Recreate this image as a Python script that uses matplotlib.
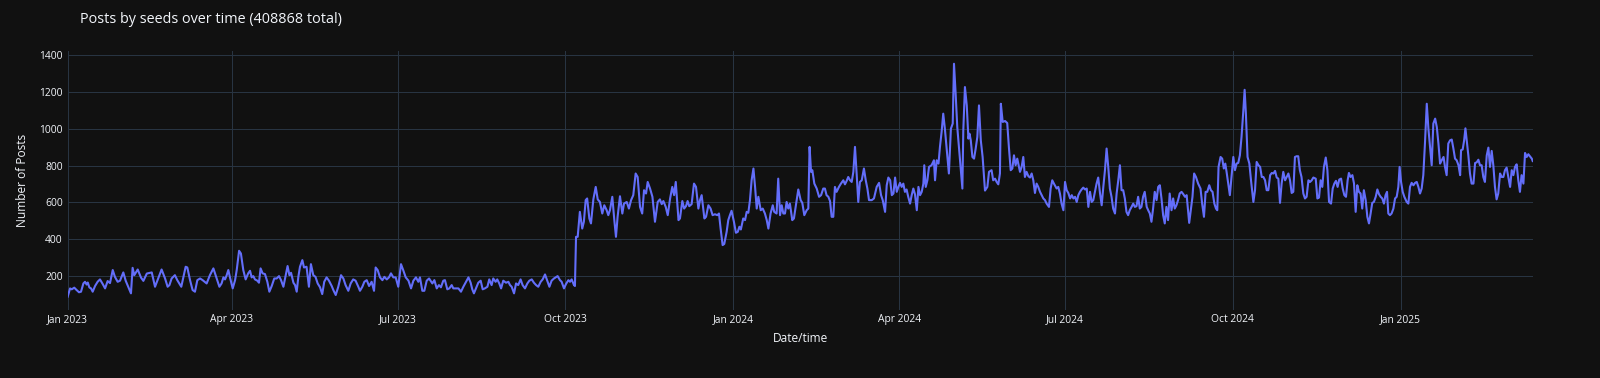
import matplotlib
matplotlib.use("Agg")
import matplotlib.pyplot as plt
import pandas as pd

# ---------------- data ----------------
start_date = "2023-01-01"

day_offset = [
    0, 1.3, 2.2, 3.6, 4.9, 6.2, 7.3, 8.6, 9.5, 10.4, 11, 11.9, 12.8, 13.7, 15, 16.4, 17.7, 19.2, 20.5, 21.9,
    23.2, 24.7, 25.9, 27.4, 28.7, 30.5, 31.8, 33.6, 34.7, 35.6, 36.5, 38.4, 40.2, 41.5, 43.4, 46.1, 47.9, 51.5,
    53.4, 54.8, 55.8, 57, 58.8, 60.1,
    62.3, 64.7, 65.6, 67.1, 68.5, 69.8, 71.1, 72.6, 74, 76.2, 78, 79.9, 81.7, 83.2, 84.4, 85.4, 86.3, 87.2, 88.1,
    89, 90.5, 91.8, 92.7, 94, 95, 96.3, 97.6, 99, 100, 100.9, 101.8, 102.7, 104, 104.9, 105.8, 106.9, 108.2,
    109.5, 110.6, 111.9, 113.3, 114.6, 115.9, 117, 118.3, 119.6, 120.6, 121.6, 122.5, 123.8, 124.7, 125.6,
    126.5, 127.4, 128.7, 129.6,
    131, 132.3, 133.4, 134.7, 135.9, 137.1, 138.4, 139.6, 140.7, 142, 143.3, 144.8, 145.7, 147, 148.4, 149.9,
    151.2, 152.4, 153.9, 155.2, 156.6, 157.9, 159.4, 160.3, 161.6, 162.7, 164, 165.3, 166.7, 168, 168.9, 170,
    171.3, 172.6, 173.7, 175, 176.2, 177.3, 178.6, 179.9, 181.3, 182.8, 184, 185.4, 186.9, 188.3, 189.6, 191,
    192.3, 193.2, 194.5, 195.6, 196.9, 198.2,
    200, 201.1, 202.4, 203.6, 204.7, 206, 206.9, 208.2, 209.3, 210.6, 211.5, 212.9, 214.3, 215.7, 217, 218.5,
    219.8, 221, 221.9, 222.8, 223.9, 225.2, 226.5, 227.6, 228.8, 230.2, 231.2, 232.5, 233.4, 234.7, 235.6,
    236.7, 237.7, 238.9, 240.4, 241.7, 242.6, 243.5, 244.8, 245.9, 247.1, 248.4, 249.5, 250.8, 252.1, 253.2,
    254.5, 255.7, 256.9, 258.1, 259.4, 260.5, 261.8, 263, 264.2, 265.4, 266.7,
    268.7, 270, 270.9, 272.2, 273.3, 274.6, 275.5, 276.4, 277.7, 278.2, 278.8, 279.7, 280.9, 282.2, 283.1,
    284.1, 284.9, 286.1, 287, 288.3, 289.6, 290.7, 291.9, 293.2, 294.3, 295.6, 296.5, 297.4, 298.7, 299.8,
    300.7, 301.6, 302.9, 304.2, 305.1, 306.6, 307.8, 309, 310.2, 311.5, 312.6, 313.9, 315.1, 316.1, 317.2,
    318.1, 319.4, 320.7, 322.1, 323.6, 324.8, 325.8, 326.7, 328, 329.1, 330.4, 331.6, 332.6, 333.5, 335,
    335.8, 337.1, 338.1, 339.1, 340, 340.9, 342.2, 343.5, 344.6, 345.9, 346.8, 347.7, 349.2, 350.1, 351.4,
    352.6, 353.7, 355, 356.3, 357.2, 358.1, 359.2, 360.1, 361.4, 362.3, 363.2, 364.1, 365.4, 366.5, 367.5,
    368.4, 369.2, 370.5, 371.5, 372.4, 373.3, 374.2, 375.1, 376.1, 377, 377.9, 378.8, 380.1, 381.2, 382.4,
    383.4, 384.3, 385.5, 386.7, 387.5, 388.8, 389.7, 390.7, 391.6, 392.5, 393.4, 394.3, 395.2, 396.1, 397.4,
    398.3, 399.8, 400.7, 402, 402.9, 404, 405.3, 406.2,
    406.9, 407.7, 408.4, 409.5, 410.8, 412.1, 413.2, 414.4, 415.3, 416.2, 417.2, 418.1, 419, 419.9, 420.8,
    421.7, 423, 424.1, 425.4, 426.3, 427.2, 428.1, 429.1, 430, 430.9, 431.8, 432.7, 433.6, 434.5, 435.5,
    436.7, 437.7, 438.6, 439.5, 441, 442.2, 443.7, 445, 446.1, 447, 448.3, 449.2, 450.1, 451.1, 452, 452.9,
    453.8, 454.7, 455.6, 456.5, 457.4, 458.3, 459.2, 460.1, 461, 462, 462.9, 463.8, 464.7, 465.7, 466.6,
    467.5, 468.4, 469.3, 469.8, 470.6, 471.5, 472.4,
    473.8, 475.1, 475.7, 476.6, 477.6, 478.4, 479.3, 480.2, 481.1, 482.1, 483.3, 484.4, 485.4, 486.1, 487,
    487.9, 488.8, 489.8, 490.7, 491.2, 492.1, 493.1, 494, 494.6, 495.3, 496.2, 497.1, 498, 498.9, 499.8,
    500.8, 501.8, 503.1, 504.4, 505.3, 506.7, 507.6, 508.6, 509.5, 510.4, 511.3, 511.8, 512.8, 514.1, 515.3,
    516.2, 517.2, 518.1, 519, 519.9, 520.8, 521.7, 522.3, 523.2, 524.1, 525, 525.9, 526.9, 527.8, 528.7,
    529.6, 530.5, 531.4, 532.3, 533.3, 534.2, 535.1, 536, 536.9, 538.2, 539.1, 540, 540.9,
    542.4, 543.3, 544.2, 545.1, 546.1, 547, 547.9, 548.8, 549.8, 550.7, 551.6, 552.5, 553.4, 554.3, 555.2,
    556.1, 557, 558, 558.9, 559.8, 560.7, 561.6, 562.5, 563.4, 564.3, 565.2, 566.2, 567.1, 568, 568.9, 569.8,
    570.7, 571.6, 572.5, 573.4, 574.4, 575.3, 576.2, 577.1, 578, 578.9, 579.8, 580.7, 581.6, 582.5, 583.5,
    584.4, 585.3, 586.2, 587.1, 588, 588.9, 589.8, 590.7, 591.8, 592.6, 593.5, 594.4, 595.3, 596.2, 597.2,
    598.1, 599, 599.9, 600.8, 601.7, 602.6, 603.5, 604.4, 605.4, 606.3, 607.2, 608.1, 609, 609.9,
    610.9, 611.9, 612.8, 613.7, 614.6, 615.1, 616, 616.9, 617.8, 618.8, 620, 621.3, 622.2, 623.2, 624.1, 625,
    626.1, 627, 627.9, 628.9, 629.8, 630.5, 631.2, 632.3, 633.2, 634.1, 634.9, 635.6, 636.5, 637.4, 638.3,
    639.3, 640.2, 641.1, 642, 642.9, 643.8, 644.8, 645.5, 646.2, 647.1, 648.1, 649, 650.3, 651.2, 652.1,
    653.1, 654, 654.9, 655.8, 656.7, 657.6, 658.5, 659.5, 660.4, 661.3, 662.2, 663.1, 664, 664.9, 665.8,
    666.7, 667.7, 668.6, 669.5, 670.4, 671.3, 672.2, 673.1, 674, 674.9, 675.8, 676.7, 677.7,
    678.6, 679.5, 680.5, 681.4, 682.3, 683.2, 684.5, 685.4, 686.3, 687.2, 688.1, 689, 690, 690.9, 691.8,
    692.9, 693.8, 694.7, 695.6, 696.5, 697.4, 698.4, 699.3, 700.2, 701.1, 702, 702.7, 703.6, 704.6, 705.5,
    706.4, 707.3, 708.2, 709.1, 710, 710.9, 711.9, 712.8, 713.7, 714.6, 715.5, 716.4, 717.4, 718.3, 719.2,
    720.1, 721, 721.9, 722.8, 723.6, 724.3, 725.2, 726.1, 727.1, 728, 728.9, 729.8, 730.5, 731.3, 732.2,
    733.1, 734.4, 735.3, 736.2, 737.1, 738.1, 739, 739.9, 740.8,
    741.7, 742.6, 743.5, 744.4, 745.4, 746.3, 747.2, 748.1, 749, 750, 750.9, 751.8, 752.7, 753.6, 754.6,
    755.4, 756.3, 757.2, 758.2, 759.1, 760, 760.9, 761.8, 762.8, 763.7, 764.2, 765.1, 765.9, 766.6, 767.3,
    768.2, 769.1, 770, 771, 771.9, 772.8, 773.7, 774.6, 775.5, 776.4, 777.3, 778.3, 779.2, 780.1, 781,
    781.9, 782.8, 783.7, 784.6, 785.6, 786.5, 787.4, 788.3, 789.2, 790.1, 791.1, 792, 792.9, 793.8, 794.7,
    795.6, 796.5, 797.4, 798.4, 799.3, 800.2, 801.1, 802, 803, 803.5,
]

posts = [
    86, 131, 126, 135, 122, 110, 113, 158, 167, 152, 163, 136, 131, 113, 144, 167, 180, 155, 131, 171,
    160, 231, 194, 167, 173, 218, 173, 131, 104, 243, 203, 234, 190, 172, 212, 218, 140, 234,
    185, 140, 149, 185, 203, 176,
    140, 249, 245, 176, 122, 113, 176, 185, 176, 158, 203, 240, 185, 140, 158, 191, 180, 203, 231,
    191, 131, 176, 231, 336, 321, 231, 180, 213, 227, 191, 198, 180, 173, 162, 240, 213, 209,
    167, 113, 144, 185, 185, 198, 176, 140, 203, 253, 203, 216, 162, 149, 113,
    194, 249, 285, 245,
    249, 140, 263, 203, 194, 158, 137, 100, 167, 191, 173, 144, 122, 95, 140, 203,
    185, 149, 118, 158, 180, 173, 140, 118, 140, 167, 176, 144, 167, 118, 245, 231,
    191, 176, 194, 180, 191, 213, 191, 191, 140, 263, 231, 191, 173, 131, 173, 191,
    167, 191, 118, 118, 173, 185,
    158, 176, 131, 149, 137, 173, 176, 126, 131, 149, 131, 131, 131, 113, 140, 167,
    191, 162, 126, 104, 131, 162, 173, 126, 131, 140, 180, 149, 185, 167, 180,
    158, 131, 173, 162, 167, 149, 140, 104, 158, 149, 180, 149, 131, 158, 173,
    180, 162, 149, 140, 167, 180, 207, 173, 140, 173, 185,
    198, 176, 167, 131, 155, 176, 167, 180, 149, 144, 412, 412, 548, 457, 494,
    612, 621, 512, 485, 616, 684, 616, 602, 539, 584, 557, 530, 557, 630, 503,
    412, 521, 633, 539, 593, 602, 566, 612, 639, 757, 738, 575, 539, 666, 648,
    711, 675, 630, 494, 602, 616, 590, 607, 575, 530, 621, 684, 639, 711, 503,
    512, 607, 566, 579, 607, 579, 590, 702, 684, 566, 612, 639, 512, 521, 584,
    566, 530, 535, 530, 539, 457, 367, 373, 439, 503, 530, 554, 494, 434, 439,
    467, 452, 512, 503, 548, 543, 612, 720, 784, 684, 566, 630, 557, 566, 539,
    503, 457, 539, 584, 548, 539, 729, 530, 584, 539, 539, 602, 566, 593, 503,
    512, 612, 670, 612, 597, 530, 557, 566,
    902, 766, 775, 702, 675, 630, 639, 675, 675, 639, 630, 607, 521, 521, 684,
    657, 684, 702, 720, 698, 716, 738, 720, 711, 766, 902, 757, 602, 711, 720,
    784, 720, 675, 612, 612, 621, 684, 706, 639, 612, 548, 693, 735, 720, 639, 648,
    735, 657, 684, 706, 684, 702, 657, 670, 630, 593, 639, 675, 644, 557, 684,
    639, 657, 702, 802, 684, 720, 793,
    802, 829, 720, 829, 811, 902, 983, 1083, 1001, 893, 757, 1001, 1029, 1355, 1192,
    1010, 902, 775, 675, 992, 1228, 1128, 947, 974, 938, 847, 838, 893, 956, 1128,
    938, 847, 664, 684, 766, 775, 720, 729, 711, 698, 757, 1137, 1038, 1043, 1032,
    902, 775, 784, 856, 802, 838, 793, 766, 793, 847, 738, 766, 742, 735, 757,
    720, 651, 702, 684, 657, 639, 621, 612, 593, 575, 675, 720, 702,
    675, 684, 648, 593, 557, 711, 666, 651, 621, 639, 621, 630, 602, 639, 657,
    670, 680, 670, 675, 575, 657, 602, 612, 657, 702, 735, 648, 584, 684, 775, 893,
    793, 675, 630, 566, 539, 648, 720, 802, 666, 666, 621, 548, 530, 557, 575,
    593, 575, 579, 630, 566, 575, 630, 657, 575, 557, 539, 494, 566, 657, 612,
    684, 693, 621, 530, 485, 575, 503, 648, 557, 621, 566, 584, 612, 648,
    657, 644, 630, 639, 539, 488, 557, 630, 757, 738, 702, 675, 593, 521, 657, 657,
    693, 666, 657, 593, 566, 557, 793, 847, 838, 784, 811, 766, 702, 639, 738,
    847, 775, 811, 815, 856, 956, 1101, 1213, 1083, 847, 811, 720, 602, 666, 820,
    802, 793, 738, 738, 720, 666, 666, 748, 760, 757, 771, 735, 729, 597, 702,
    766, 720, 738, 757, 720, 651, 657, 847, 851, 851, 775, 738, 648,
    621, 630, 720, 711, 720, 735, 729, 621, 626, 720, 684, 793, 844, 775, 602,
    593, 675, 702, 717, 684, 724, 729, 675, 639, 630, 720, 760, 738, 748, 702,
    548, 693, 657, 648, 566, 666, 612, 521, 485, 539, 597, 602, 630, 670, 644,
    630, 621, 593, 639, 657, 539, 530, 539, 566, 621, 630, 684, 793, 711, 657,
    630, 602, 593, 684, 706, 693, 706, 711, 684,
    648, 675, 748, 920, 1137, 1001, 902, 802, 1029, 1056, 1010, 920, 811, 829, 847,
    793, 748, 920, 938, 942, 893, 838, 829, 802, 748, 884, 888, 938, 1003, 938,
    856, 757, 702, 702, 814, 818, 832, 802, 802, 738, 711, 856, 898, 793, 880,
    802, 684, 616, 648, 757, 738, 738, 775, 789, 738, 684, 775, 748, 793, 807,
    720, 657, 748, 702, 869, 847, 862, 851, 838, 825,
]

title_text = "Posts by seeds over time (408868 total)"
x_title = "Date/time"
y_title = "Number of Posts"
x_tick_dates = ["2023-01-01", "2023-04-01", "2023-07-01", "2023-10-01", "2024-01-01",
                "2024-04-01", "2024-07-01", "2024-10-01", "2025-01-01"]
y_ticks = [200, 400, 600, 800, 1000, 1200, 1400]

# ---------------- styling ----------------
BG = "#111111"
GRID = "#283442"
TXT = "#f2f5fa"
LINE = "#636efa"
FONT = ["Open Sans", "DejaVu Sans"]
plt.rcParams["font.family"] = FONT

dates = pd.Timestamp(start_date) + pd.to_timedelta(day_offset, unit="D")
s = pd.Series(posts, index=dates)

W, H = 1600, 378
fig = plt.figure(figsize=(W / 100, H / 100), dpi=100, facecolor=BG)
left_px, right_px, top_px, bot_px = 67.7, 1532.7, 50.8, 309.6
ax = fig.add_axes([left_px / W, 1 - bot_px / H, (right_px - left_px) / W, (bot_px - top_px) / H])
ax.set_facecolor(BG)

ax.plot(s.index, s.values, color=LINE, lw=1.5, solid_joinstyle="round", zorder=3)

ax.set_xlim(s.index.min(), s.index.max())
lo, hi = min(posts), max(posts)
pad = (hi - lo) * 0.05 / 0.9
ax.set_ylim(lo - pad, hi + pad)

xt = pd.to_datetime(x_tick_dates)
ax.set_xticks(xt)
ax.set_xticklabels([d.strftime("%b %Y") for d in xt])
ax.set_yticks(y_ticks)
ax.set_yticklabels([str(v) for v in y_ticks])

for sp in ax.spines.values():
    sp.set_visible(False)
ax.grid(True, color=GRID, lw=0.75, zorder=0)
ax.set_axisbelow(True)
ax.tick_params(axis="both", length=0, colors=TXT, labelsize=7.4)
ax.tick_params(axis="x", pad=3.0)
ax.tick_params(axis="y", pad=3.5)

fig.text(80 / W, 1 - 19.5 / H, title_text, color=TXT, fontsize=10.4, ha="left", va="center")
fig.text((left_px + right_px) / 2 / W, 1 - 339 / H, x_title, color=TXT, fontsize=8.6, ha="center", va="center")
fig.text(23 / W, 1 - (top_px + bot_px) / 2 / H, y_title, color=TXT, fontsize=8.6, ha="center",
         va="center", rotation=90)

fig.savefig("out.png", dpi=100, facecolor=BG)
